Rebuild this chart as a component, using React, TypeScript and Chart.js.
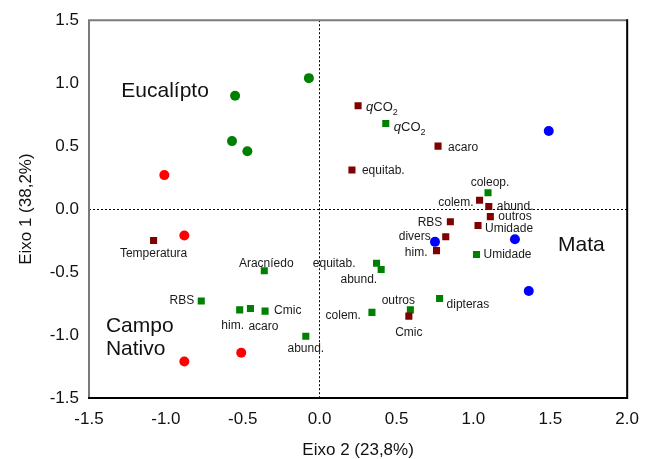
import React, { useEffect, useRef } from "react";
import { Chart, registerables } from "chart.js";

Chart.register(...registerables);

// ---- Data ----
const redX = [-1.01, -0.88, -0.88, -0.51];
const redY = [0.27, -0.21, -1.21, -1.14];

const greenCircX = [-0.07, -0.55, -0.57, -0.47];
const greenCircY = [1.04, 0.9, 0.54, 0.46];

const blueX = [1.49, 0.75, 1.27, 1.36];
const blueY = [0.62, -0.26, -0.24, -0.65];

const darkRedLabels = ["qCO2", "acaro", "equitab.", "colem.", "abund.", "outros", "Umidade", "RBS", "divers", "him.", "Temperatura", "Cmic"];
const darkRedX = [0.25, 0.77, 0.21, 1.04, 1.1, 1.11, 1.03, 0.85, 0.82, 0.76, -1.08, 0.58];
const darkRedY = [0.82, 0.5, 0.31, 0.07, 0.02, -0.06, -0.13, -0.1, -0.22, -0.33, -0.25, -0.85];

const greenSqLabels = ["qCO2", "coleop.", "Umidade", "equitab.", "abund.", "dipteras", "outros", "colem.", "abund.", "Aracníedo", "RBS", "him.", "acaro", "Cmic"];
const greenSqX = [0.43, 1.095, 1.02, 0.37, 0.4, 0.78, 0.59, 0.34, -0.09, -0.36, -0.77, -0.52, -0.45, -0.355];
const greenSqY = [0.68, 0.13, -0.36, -0.43, -0.48, -0.71, -0.8, -0.82, -1.01, -0.49, -0.73, -0.8, -0.79, -0.81];

const groupNames = ["Eucalípto", "Campo", "Nativo", "Mata"];
const groupX = [-1.29, -1.39, -1.39, 1.55];
const groupY = [0.94, -0.93, -1.11, -0.29];

const xTicksMin = -1.5;
const xTicksMax = 2.0;
const yTicksMin = -1.5;
const yTicksMax = 1.5;
const tickStep = 0.5;

const xTitle = "Eixo 2 (23,8%)";
const yTitle = "Eixo 1 (38,2%)";

// ---- Label layout (style: offsets in px from the marker, alignment) ----
type LabelStyle = [number, number, CanvasTextAlign];
const darkRedLabelLayout: LabelStyle[] = [
  [8, 2, "left"],
  [10, 2, "left"],
  [10, 1, "left"],
  [-6, 2, "right"],
  [8, 0, "left"],
  [8, 0, "left"],
  [7, 3, "left"],
  [-8, 1, "right"],
  [-15, 0, "right"],
  [-9, 2, "right"],
  [0, 13, "center"],
  [0, 17, "center"],
];
const greenSqLabelLayout: LabelStyle[] = [
  [8, 4, "left"],
  [2, -10, "center"],
  [7, 0, "left"],
  [-21, 0, "right"],
  [-4, 10, "right"],
  [7, 6, "left"],
  [-12, -9, "center"],
  [-11, 3, "right"],
  [0, 12, "center"],
  [2, -7, "center"],
  [-7, 0, "right"],
  [-7, 16, "center"],
  [13, 18, "center"],
  [9, 0, "left"],
];

const FONT = "'Liberation Sans', Arial, Helvetica, sans-serif";
const TEXT = "#1a1a1a";

function pts(xs: number[], ys: number[]) {
  return xs.map((x, i) => ({ x, y: ys[i] }));
}

function drawLabel(ctx: CanvasRenderingContext2D, text: string, x: number, y: number, align: CanvasTextAlign) {
  ctx.textBaseline = "middle";
  if (text === "qCO2") {
    const fq = `italic 13px ${FONT}`;
    const fn = `13px ${FONT}`;
    const fs = `9px ${FONT}`;
    ctx.font = fq;
    const wq = ctx.measureText("q").width;
    ctx.font = fn;
    const wc = ctx.measureText("CO").width;
    ctx.font = fs;
    const w2 = ctx.measureText("2").width;
    const total = wq + wc + w2;
    let sx = x;
    if (align === "right") sx = x - total;
    else if (align === "center") sx = x - total / 2;
    ctx.textAlign = "left";
    ctx.font = fq;
    ctx.fillText("q", sx, y);
    ctx.font = fn;
    ctx.fillText("CO", sx + wq, y);
    ctx.font = fs;
    ctx.fillText("2", sx + wq + wc, y + 5);
    return;
  }
  ctx.font = `12px ${FONT}`;
  ctx.textAlign = align;
  ctx.fillText(text, x, y);
}

const decorPlugin = {
  id: "decor",
  beforeDatasetsDraw(chart: any) {
    const { ctx, chartArea, scales } = chart;
    const x0 = scales.x.getPixelForValue(0);
    const y0 = scales.y.getPixelForValue(0);
    ctx.save();
    ctx.strokeStyle = "#000";
    ctx.lineWidth = 1;
    ctx.setLineDash([2, 2]);
    ctx.beginPath();
    ctx.moveTo(Math.round(x0) - 0.5, chartArea.top);
    ctx.lineTo(Math.round(x0) - 0.5, chartArea.bottom);
    ctx.moveTo(chartArea.left, Math.round(y0) + 0.5);
    ctx.lineTo(chartArea.right, Math.round(y0) + 0.5);
    ctx.stroke();
    ctx.restore();
  },
  afterDatasetsDraw(chart: any) {
    const { ctx, scales } = chart;
    ctx.save();
    ctx.fillStyle = TEXT;
    const m1 = chart.getDatasetMeta(3);
    darkRedLabels.forEach((t, i) => {
      const p = m1.data[i];
      const [dx, dy, al] = darkRedLabelLayout[i];
      drawLabel(ctx, t, p.x + dx, p.y + dy, al);
    });
    const m2 = chart.getDatasetMeta(4);
    greenSqLabels.forEach((t, i) => {
      const p = m2.data[i];
      const [dx, dy, al] = greenSqLabelLayout[i];
      drawLabel(ctx, t, p.x + dx, p.y + dy, al);
    });
    ctx.font = `21px ${FONT}`;
    ctx.textAlign = "left";
    ctx.textBaseline = "middle";
    ctx.fillStyle = "#111";
    groupNames.forEach((g, i) => {
      ctx.fillText(g, scales.x.getPixelForValue(groupX[i]), scales.y.getPixelForValue(groupY[i]));
    });
    ctx.restore();
  },
  afterDraw(chart: any) {
    const { ctx, chartArea } = chart;
    const { left, right, top, bottom } = chartArea;
    ctx.save();
    ctx.lineWidth = 2;
    ctx.strokeStyle = "#7a7a7a";
    ctx.beginPath();
    ctx.moveTo(left, bottom);
    ctx.lineTo(left, top);
    ctx.lineTo(right, top);
    ctx.stroke();
    ctx.strokeStyle = "#000";
    ctx.beginPath();
    ctx.moveTo(right, top - 1);
    ctx.lineTo(right, bottom);
    ctx.lineTo(left - 1, bottom);
    ctx.stroke();
    ctx.restore();
  },
};

export default function App() {
  const ref = useRef<HTMLCanvasElement | null>(null);
  useEffect(() => {
    document.body.style.margin = "0";
    const canvas = ref.current;
    if (!canvas) return;
    const tickFont = { family: FONT, size: 17 };
    const chart = new Chart(canvas, {
      type: "scatter",
      data: {
        datasets: [
          { data: pts(redX, redY), backgroundColor: "#ff0000", pointStyle: "circle", pointRadius: 5, borderWidth: 0 },
          { data: pts(greenCircX, greenCircY), backgroundColor: "#008000", pointStyle: "circle", pointRadius: 5, borderWidth: 0 },
          { data: pts(blueX, blueY), backgroundColor: "#0000ff", pointStyle: "circle", pointRadius: 5, borderWidth: 0 },
          { data: pts(darkRedX, darkRedY), backgroundColor: "#800000", pointStyle: "rect", pointRadius: 5, borderWidth: 0 },
          { data: pts(greenSqX, greenSqY), backgroundColor: "#008000", pointStyle: "rect", pointRadius: 5, borderWidth: 0 },
        ],
      },
      options: {
        responsive: false,
        animation: false,
        events: [],
        layout: { padding: { left: 0, right: 22, top: 20, bottom: 0 } },
        plugins: { legend: { display: false }, tooltip: { enabled: false } },
        scales: {
          x: {
            type: "linear",
            min: xTicksMin,
            max: xTicksMax,
            afterFit: (s: any) => { s.height = 61; },
            grid: { display: false, drawTicks: false },
            border: { display: false },
            ticks: {
              stepSize: tickStep,
              font: tickFont,
              color: "#111",
              padding: 11,
              maxRotation: 0,
              autoSkip: false,
              callback: (v: any) => Number(v).toFixed(1),
            },
            title: { display: true, text: xTitle, font: { family: FONT, size: 17, lineHeight: 1 }, color: "#111", padding: 0 },
          },
          y: {
            type: "linear",
            min: yTicksMin,
            max: yTicksMax,
            afterFit: (s: any) => { s.width = 89; },
            grid: { display: false, drawTicks: false },
            border: { display: false },
            ticks: {
              stepSize: tickStep,
              font: tickFont,
              color: "#111",
              padding: 10,
              autoSkip: false,
              callback: (v: any) => Number(v).toFixed(1),
            },
            title: { display: true, text: yTitle, font: { family: FONT, size: 17, lineHeight: 1 }, color: "#111", padding: { top: 18, bottom: 0 } },
          },
        },
      },
      plugins: [decorPlugin],
    } as any);
    return () => chart.destroy();
  }, []);
  return (
    <div style={{ width: 650, height: 459 }}>
      <canvas ref={ref} width={650} height={459} style={{ display: "block" }} />
    </div>
  );
}
